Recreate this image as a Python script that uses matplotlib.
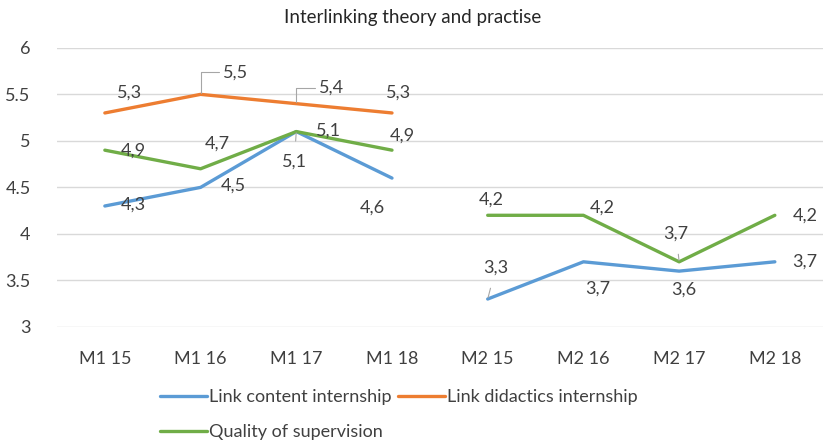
import numpy as np
import matplotlib.pyplot as plt

# categories and values
categorias = ["M1 15", "M1 16", "M1 17", "M1 18", "M2 15", "M2 16", "M2 17", "M2 18"]
link_content = [4.3, 4.5, 5.1, 4.6, 3.3, 3.7, 3.6, 3.7]
link_didactics = [5.3, 5.5, 5.4, 5.3, None, None, None, None]
quality_supervision = [4.9, 4.7, 5.1, 4.9, 4.2, 4.2, 3.7, 4.2]
# data labels as shown in the chart (decimal comma)
etiquetas_content = ["4,3", "4,5", "5,1", "4,6", "3,3", "3,7", "3,6", "3,7"]
etiquetas_didactics = ["5,3", "5,5", "5,4", "5,3"]
etiquetas_quality = ["4,9", "4,7", "5,1", "4,9", "4,2", "4,2", "3,7", "4,2"]

AZUL = "#5B9BD5"
NARANJA = "#ED7D31"
VERDE = "#70AD47"
GRIS_TXT = "#404040"
FS = 13

plt.rcParams["font.family"] = ["Lato", "DejaVu Sans"]

# label offsets in pixels (dx, dy, leader: 0 none, 1 straight, 2 elbow)
offs_content = [(28, 1, 0), (33, 2, 0), (-2, -30, 1), (-20, -30, 0),
                (8, 31, 1), (14, -27, 0), (5, -19, 0), (30, 0, 0)]
offs_didactics = [(25, 20, 0), (35, 22, 2), (35, 16, 2), (7, 20, 0)]
offs_quality = [(28, 0, 0), (17, 25, 0), (32, 1, 0), (10, 15, 0),
                (4, 16, 0), (19, 8, 0), (-3, 28, 1), (30, 0, 0)]


def a_array(vals):
    return np.array([np.nan if v is None else v for v in vals], dtype=float)


fig = plt.figure(figsize=(8.26, 4.43), dpi=100)
ax = fig.add_axes([0.069, 0.262, 0.927, 0.630])

x = np.arange(len(categorias))
series = [
    (a_array(link_content), AZUL, "Link content internship", etiquetas_content, offs_content),
    (a_array(link_didactics), NARANJA, "Link didactics internship", etiquetas_didactics, offs_didactics),
    (a_array(quality_supervision), VERDE, "Quality of supervision", etiquetas_quality, offs_quality),
]

handles = []
for vals, color, nombre, etiq, offs in series:
    # the line is broken between the M1 and M2 groups
    h, = ax.plot(x[:4], vals[:4], color=color, lw=2.4, label=nombre, solid_capstyle="round", zorder=3)
    handles.append(h)
    if not np.all(np.isnan(vals[4:])):
        ax.plot(x[4:], vals[4:], color=color, lw=2.4, solid_capstyle="round", zorder=3)
    for i, txt in enumerate(etiq):
        dx, dy, linea = offs[i]
        props = None
        if linea == 1:
            props = dict(arrowstyle="-", color="#A6A6A6", lw=0.8, shrinkA=7, shrinkB=1)
        elif linea == 2:
            props = dict(arrowstyle="-", color="#A6A6A6", lw=0.8, shrinkA=1, shrinkB=1,
                         relpos=(0, 0.5), connectionstyle="angle,angleA=0,angleB=90,rad=0")
        ax.annotate(txt, xy=(x[i], vals[i]), xytext=(dx, dy), textcoords="offset pixels",
                    ha="center", va="center", fontsize=FS, color=GRIS_TXT,
                    arrowprops=props, zorder=4)

ax.set_xlim(-0.5, len(categorias) - 0.5)
ax.set_ylim(3, 6)
ax.set_yticks(np.arange(3, 6.01, 0.5))
ax.set_yticklabels(["3", "3.5", "4", "4.5", "5", "5.5", "6"])
ax.set_xticks(x)
ax.set_xticklabels(categorias)
ax.tick_params(axis="both", length=0, labelsize=FS, labelcolor=GRIS_TXT)
ax.tick_params(axis="x", pad=17)
ax.tick_params(axis="y", pad=19)
ax.grid(axis="y", color="#D9D9D9", lw=1)
ax.set_axisbelow(True)
for s in ax.spines.values():
    s.set_visible(False)

fig.text(0.5, 1 - 17 / 443, "Interlinking theory and practise", ha="center", va="center",
         fontsize=FS + 0.5, color="#262626")

# order so rows read: content, didactics / quality
orden = [handles[0], handles[2], handles[1]]
fig.legend(orden, [h.get_label() for h in orden], loc="upper left",
           bbox_to_anchor=(160 / 826, 1 - 389 / 443), ncol=2, frameon=False,
           fontsize=FS, labelcolor=GRIS_TXT, handlelength=2.6, handletextpad=0.1,
           columnspacing=0.4, labelspacing=1.05, borderpad=0, borderaxespad=0)

fig.savefig("out.png", dpi=100)
